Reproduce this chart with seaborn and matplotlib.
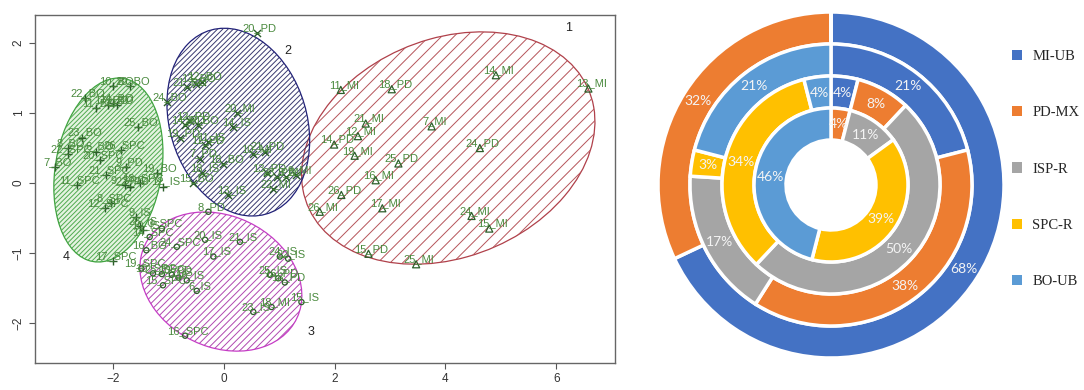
import numpy as np
import pandas as pd
import matplotlib
matplotlib.use("Agg")
import matplotlib.pyplot as plt
import seaborn as sns
from matplotlib.patches import Ellipse, Patch
from matplotlib.collections import LineCollection

sns.set_style("white")
plt.rcParams["font.family"] = ["Liberation Sans", "DejaVu Sans"]

# ---------------- cluster scatter data ----------------
c1_labels = ["11_MI", "18_PD", "14_MI", "13_MI", "21_MI", "12_MI", "7_MI", "14_PD", "24_PD",
             "19_MI", "25_PD", "16_MI", "26_PD", "26_MI", "17_MI", "24_MI", "15_MI", "15_PD", "25_MI"]
c1_x = [2.11, 3.03, 4.91, 6.58, 2.56, 2.42, 3.75, 1.99, 4.62,
        2.36, 3.15, 2.74, 2.12, 1.73, 2.86, 4.47, 4.79, 2.61, 3.47]
c1_y = [1.33, 1.34, 1.54, 1.35, 0.85, 0.67, 0.81, 0.55, 0.50,
        0.39, 0.28, 0.04, -0.17, -0.41, -0.36, -0.47, -0.65, -1.01, -1.16]

c2_labels = ["20_PD", "21_BO", "13_BO", "12_BO", "24_BO", "20_MI", "12_PD", "14_PD", "26_BO",
             "14_IS", "19_PD", "11_IS", "11_PD", "10_MI", "21_PD", "7_PD", "18_BO", "13_PD",
             "8_MI", "9_MI", "23_PD", "18_IS", "15_BO", "13_IS", "22_MI"]
c2_x = [0.59, -0.67, -0.51, -0.40, -1.03, 0.23, -0.61, -0.70, -0.46,
        0.17, -0.79, -0.28, -0.34, 0.53, 0.74, -0.43, -0.01, 0.77,
        1.13, 1.31, 0.95, -0.40, -0.55, 0.08, 0.89]
c2_y = [2.14, 1.37, 1.42, 1.45, 1.16, 1.00, 0.88, 0.83, 0.83,
        0.80, 0.64, 0.59, 0.54, 0.42, 0.45, 0.35, 0.27, 0.14,
        0.09, 0.11, 0.09, 0.14, 0.00, -0.17, -0.08]

c3_labels = ["8_PD", "3_SPC", "14_SPC", "16_BO", "24_SPC", "20_IS", "21_IS", "17_IS", "24_IS",
             "22_IS", "25_IS", "16_PD", "18_PD", "19_SPC", "10_SPC", "25_SPC", "10_PD", "7_IS",
             "16_IS", "15_SPC", "6_IS", "15_IS", "18_MI", "23_IS", "16_SPC"]
c3_x = [-0.28, -1.12, -1.34, -1.40, -0.85, -0.34, 0.29, -0.19, 1.01,
        1.16, 0.83, 0.98, 1.10, -1.49, -1.28, -1.12, -0.94, -0.82,
        -0.67, -1.10, -0.49, 1.40, 0.86, 0.53, -0.70]
c3_y = [-0.41, -0.65, -0.77, -0.96, -0.91, -0.81, -0.84, -1.05, -1.05,
        -1.08, -1.31, -1.36, -1.42, -1.22, -1.29, -1.30, -1.31, -1.35,
        -1.39, -1.46, -1.54, -1.70, -1.77, -1.84, -2.18]

c4_labels = ["10_BO", "20_BO", "22_BO", "11_BO", "17_BO", "14_BO", "9_BO", "25_BO", "23_BO",
             "8_BO", "22_SPC", "6_BO", "26_SPC", "20_SPC", "7_BO", "9_PD", "21_SPC", "19_BO",
             "11_SPC", "9_SPC", "22_PD", "18_SPC", "12_IS", "8_SPC", "12_SPC", "9_IS",
             "26_IS", "10_IS", "17_SPC"]
c4_x = [-2.00, -1.70, -2.51, -2.30, -2.09, -2.00, -1.93, -1.55, -2.57,
        -2.81, -2.81, -2.30, -1.85, -2.24, -3.05, -1.76, -2.12, -1.21,
        -2.66, -1.79, -1.70, -1.52, -1.10, -2.03, -2.15, -1.58,
        -1.52, -1.46, -2.00]
c4_y = [1.38, 1.39, 1.21, 1.07, 1.11, 1.14, 1.12, 0.80, 0.65,
        0.50, 0.42, 0.45, 0.47, 0.33, 0.23, 0.23, 0.11, 0.14,
        -0.03, -0.03, -0.05, 0.00, -0.05, -0.29, -0.36, -0.48,
        -0.62, -0.67, -1.11]

# ellipse hulls per cluster: centre x, centre y, semi-axis a, semi-axis b, angle (deg)
hull_cx = [4.05, 0.26, -0.054, -2.085]
hull_cy = [0.50, 0.87, -1.407, 0.186]
hull_a = [2.69, 1.44, 1.485, 1.34]
hull_b = [1.59, 1.176, 0.958, 0.949]
hull_angle = [12.6, -50.8, -13.4, 73.8]
cluster_ids = ["1", "2", "3", "4"]
cluster_tag_x = [6.23, 1.16, 1.57, -2.85]
cluster_tag_y = [2.21, 1.89, -2.13, -1.06]

# ---------------- nested donut data ----------------
groups = ["MI-UB", "PD-MX", "ISP-R", "SPC-R", "BO-UB"]
ring_outer = [68, 32, 0, 0, 0]
ring_third = [21, 38, 17, 3, 21]
ring_second = [4, 8, 50, 34, 4]
ring_inner = [0, 4, 11, 39, 46]

group_colors = ["#4472C4", "#ED7D31", "#A5A5A5", "#FFC000", "#5B9BD5"]

# ---------------- figure ----------------
fig = plt.figure(figsize=(10.84, 3.90), dpi=100)
W_px, H_px = 1084, 390

ax = fig.add_axes([35 / W_px, 27 / H_px, 580 / W_px, 348 / H_px])

frames = []
for k, (lab, xs, ys) in enumerate([(c1_labels, c1_x, c1_y), (c2_labels, c2_x, c2_y),
                                     (c3_labels, c3_x, c3_y), (c4_labels, c4_x, c4_y)], start=1):
    frames.append(pd.DataFrame({"label": lab, "x": xs, "y": ys, "cluster": k}))
df = pd.concat(frames, ignore_index=True)

hull_edge = ["#B0404A", "#20207A", "#C83CC8", "#3FA33F"]
hull_line = ["#B5545A", "#3A3A70", "#B048B0", "#4FAA4F"]
hull_spacing = [12.5, 5.3, 6.8, 4.7]
hull_lw = [0.7, 0.7, 0.7, 0.7]

ax.set_xlim(-3.41, 7.06)
ax.set_ylim(-2.57, 2.40)

axw = 580.0
axh = 348.0
for i in range(4):
    ell = Ellipse((hull_cx[i], hull_cy[i]), 2 * hull_a[i], 2 * hull_b[i], angle=hull_angle[i],
                  facecolor="#E4F3E0" if i == 3 else "none", edgecolor=hull_edge[i],
                  linewidth=0.9, zorder=2)
    ax.add_patch(ell)
    segs = []
    for c in np.arange(-axw, axh, hull_spacing[i]):
        segs.append([(0.0, c / axh), (1.0, (axw + c) / axh)])
    lc = LineCollection(segs, transform=ax.transAxes, colors=hull_line[i],
                        linewidths=hull_lw[i], zorder=2)
    ax.add_collection(lc, autolim=False)
    lc.set_clip_path(ell)
    ax.text(cluster_tag_x[i], cluster_tag_y[i], cluster_ids[i], fontsize=9,
            color="#222222", ha="center", va="center", zorder=5)

pt_color = "#2C5E2A"
marker_specs = {1: ("^", 26, True), 2: ("x", 26, False), 3: ("o", 14, True), 4: ("+", 40, False)}
for k, (m, s, is_open) in marker_specs.items():
    sub = df[df["cluster"] == k]
    if is_open:
        sns.scatterplot(data=sub, x="x", y="y", marker=m, s=s, color=pt_color,
                        facecolor="none", edgecolor=pt_color, linewidth=0.9, ax=ax, zorder=3)
    else:
        sns.scatterplot(data=sub, x="x", y="y", marker=m, s=s, color=pt_color,
                        linewidth=1.0, ax=ax, zorder=3)

for _, r in df.iterrows():
    ax.annotate(r["label"], (r["x"], r["y"]), xytext=(3, 5), textcoords="offset pixels",
                ha="center", va="center", fontsize=8, color="#4A8A3E", zorder=4)

ax.set_xlabel("")
ax.set_ylabel("")
ax.set_xticks([-2, 0, 2, 4, 6])
ax.set_yticks([-2, -1, 0, 1, 2])
ax.tick_params(axis="both", direction="out", length=4, width=0.8, colors="#555555",
               labelsize=8.5, labelcolor="#333333", bottom=True, left=True)
for lbl in ax.get_yticklabels():
    lbl.set_rotation(90)
    lbl.set_va("center")
for sp in ax.spines.values():
    sp.set_color("#666666")
    sp.set_linewidth(1.0)

# ---------------- nested donut ----------------
R = 173
pax = fig.add_axes([(831 - R) / W_px, (H_px - 185 - R) / H_px, 2 * R / W_px, 2 * R / H_px])
ring_width = 0.185
rings = [(ring_outer, 1.0), (ring_third, 0.815), (ring_second, 0.63), (ring_inner, 0.445)]
for vals, rad in rings:
    pax.pie(vals, radius=rad, colors=group_colors, startangle=90, counterclock=False,
            autopct=lambda p: f"{p:.0f}%" if p > 0.5 else "",
            pctdistance=(rad - ring_width / 2) / rad,
            wedgeprops=dict(width=ring_width, edgecolor="white", linewidth=2.5),
            textprops=dict(color="#F4F4F4", fontsize=10, family=["Lato", "DejaVu Sans"]))
pax.set_xlim(-1, 1)
pax.set_ylim(-1, 1)
pax.set_aspect("equal")
pax.axis("off")

handles = [Patch(facecolor=c, edgecolor="none") for c in group_colors]
fig.legend(handles, groups, loc="upper left", bbox_to_anchor=(1012 / W_px, 1 - 50 / H_px),
           frameon=False, prop={"family": ["Liberation Serif"], "size": 10.5},
           handlelength=0.7, handleheight=0.7, handletextpad=0.7, labelspacing=2.95,
           borderaxespad=0, borderpad=0)

fig.savefig("out.png", dpi=100, facecolor="white")
